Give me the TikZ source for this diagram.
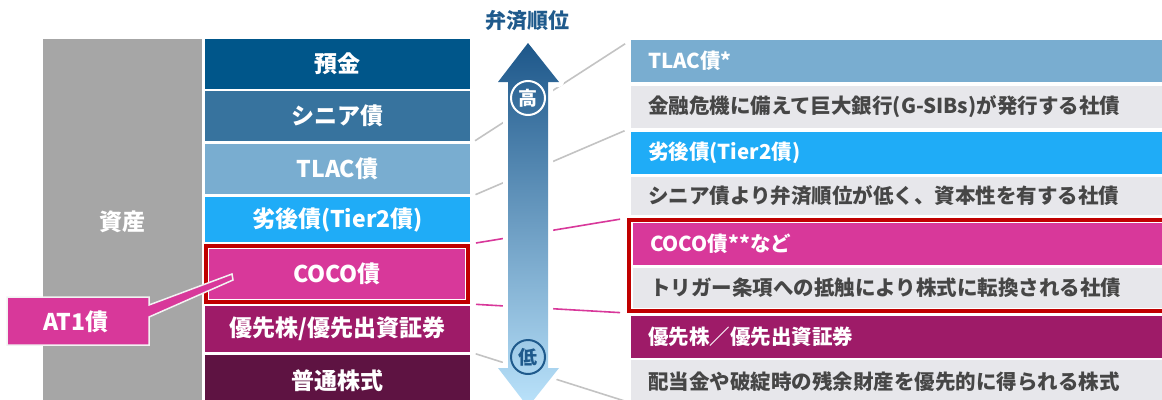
\documentclass[tikz,border=0pt]{standalone}
\usepackage{fontspec}
\setmainfont{Noto Sans CJK JP}
\definecolor{cYokin}{HTML}{00568A}
\definecolor{cSenior}{HTML}{37739E}
\definecolor{cTlac}{HTML}{79ADD0}
\definecolor{cTier}{HTML}{1FACF7}
\definecolor{cCoco}{HTML}{D8389A}
\definecolor{cPref}{HTML}{9E1B68}
\definecolor{cCommon}{HTML}{5E1342}
\definecolor{cAsset}{HTML}{A6A6A6}
\definecolor{descbg}{HTML}{E7E7EB}
\definecolor{desctext}{HTML}{464646}
\definecolor{framered}{HTML}{C00000}
\definecolor{lineg}{HTML}{C3C3C3}
\definecolor{titleblue}{HTML}{1F5A8C}
\definecolor{arrtop}{HTML}{1D578A}
\definecolor{arrbot}{HTML}{BBE3FB}
\definecolor{calloutline}{HTML}{F2F2F2}
\tikzset{
  base/.style={inner sep=0pt, outer sep=0pt, anchor=north west},
  lbox/.style={base, minimum width=265pt, text=white, font=\bfseries\fontsize{23}{26}\selectfont},
  rbox/.style={base, minimum width=540pt, minimum height=42pt, text width=506pt, inner xsep=17pt, align=left, font=\bfseries\fontsize{20.5}{24}\selectfont},
  rhead/.style={rbox, text=white},
  rdesc/.style={rbox, fill=descbg, text=desctext},
  gline/.style={draw=lineg, line width=1.6pt, shorten <=6pt, shorten >=7pt},
  pline/.style={gline, draw=cCoco},
  framebox/.style={base, draw=framered, line width=4pt, outer sep=2pt},
  ranking/.style={circle, line width=2pt, minimum size=34pt, inner sep=0pt, font=\bfseries\fontsize{19}{19}\selectfont},
}
\begin{document}
\begin{tikzpicture}[x=1pt,y=-1pt]
\useasboundingbox (0,0) rectangle (1162,399);
\clip (0,0) rectangle (1162,399);
% asset column
\node[base, fill=cAsset, minimum width=159pt, minimum height=370pt] (asset) at (43,39) {};
\node[text=white, font=\bfseries\fontsize{23}{26}\selectfont] (assetlbl) at (122,222) {資産};
% left stack
\node[lbox, fill=cYokin,  minimum height=50pt] (L1) at (205,39)  {預金};
\node[lbox, fill=cSenior, minimum height=50pt] (L2) at (205,91)  {シニア債};
\node[lbox, fill=cTlac,   minimum height=50pt] (L3) at (205,144) {TLAC債};
\node[lbox, fill=cTier,   minimum height=45pt] (L4) at (205,197) {劣後債(Tier2債)};
\node[base, fill=white, minimum width=266pt, minimum height=60pt] (L5bg) at (204,244) {};
\node[lbox, fill=cCoco, minimum width=256pt, minimum height=50pt] (L5) at (209,249) {COCO債};
\node[framebox, minimum width=262pt, minimum height=56pt] (LF) at (204,244) {};
\node[lbox, fill=cPref,   minimum height=46pt] (L6) at (205,306) {優先株/優先出資証券};
\node[lbox, fill=cCommon, minimum height=52pt] (L7) at (205,355) {普通株式};
% right stack
\node[rhead, fill=cTlac] (R1) at (631,40)  {TLAC債*};
\node[rdesc] (R2) at (631,86)  {金融危機に備えて巨大銀行(G-SIBs)が発行する社債};
\node[rhead, fill=cTier] (R3) at (631,132) {劣後債(Tier2債)};
\node[rdesc, minimum height=38pt] (R4) at (631,177) {シニア債より弁済順位が低く、資本性を有する社債};
\node[rhead, fill=cCoco] (R5) at (633,223) {COCO債**など};
\node[rdesc, minimum height=40pt] (R6) at (633,268) {トリガー条項への抵触により株式に転換される社債};
\node[framebox, minimum width=546pt, minimum height=91pt] (RF) at (627,218) {};
\node[rhead, fill=cPref] (R7) at (631,316) {優先株／優先出資証券};
\node[rdesc, minimum height=43pt] (R8) at (631,360) {配当金や破綻時の残余財産を優先的に得られる株式};
% connectors
\draw[gline] (L3.north east) -- (R1.north west);
\draw[gline] (L4.north east) -- (R2.south west);
\draw[pline] (LF.north east) -- (RF.north west);
\draw[pline] (LF.south east) -- (RF.south west);
\draw[gline] (L6.south east) -- (R8.south west);
% arrow
\path[draw=white, line width=10pt, line join=round]
  (528,43) -- (559,82) -- (548,82) -- (548,368) -- (559,368) -- (528,407) -- (498,368) -- (508,368) -- (508,82) -- (498,82) -- cycle;
\path[top color=arrtop, bottom color=arrbot]
  (528,43) -- (559,82) -- (548,82) -- (548,368) -- (559,368) -- (528,407) -- (498,368) -- (508,368) -- (508,82) -- (498,82) -- cycle;
\node[ranking, draw=white, text=white] (hi) at (528,98) {高};
\node[ranking, draw=titleblue, text=titleblue] (lo) at (528,357) {低};
\node[text=titleblue, font=\bfseries\fontsize{21}{24}\selectfont] (title) at (527,21) {弁済順位};
% callout
\path[fill=cCoco, draw=calloutline, line width=1.5pt, line join=miter]
  (7,297) -- (149,297) -- (149,305) -- (232,274) -- (233,280) -- (149,317) -- (149,345) -- (7,345) -- cycle;
\node[text=white, font=\bfseries\fontsize{23}{26}\selectfont] (at1) at (76,322) {AT1債};
\end{tikzpicture}
\end{document}
